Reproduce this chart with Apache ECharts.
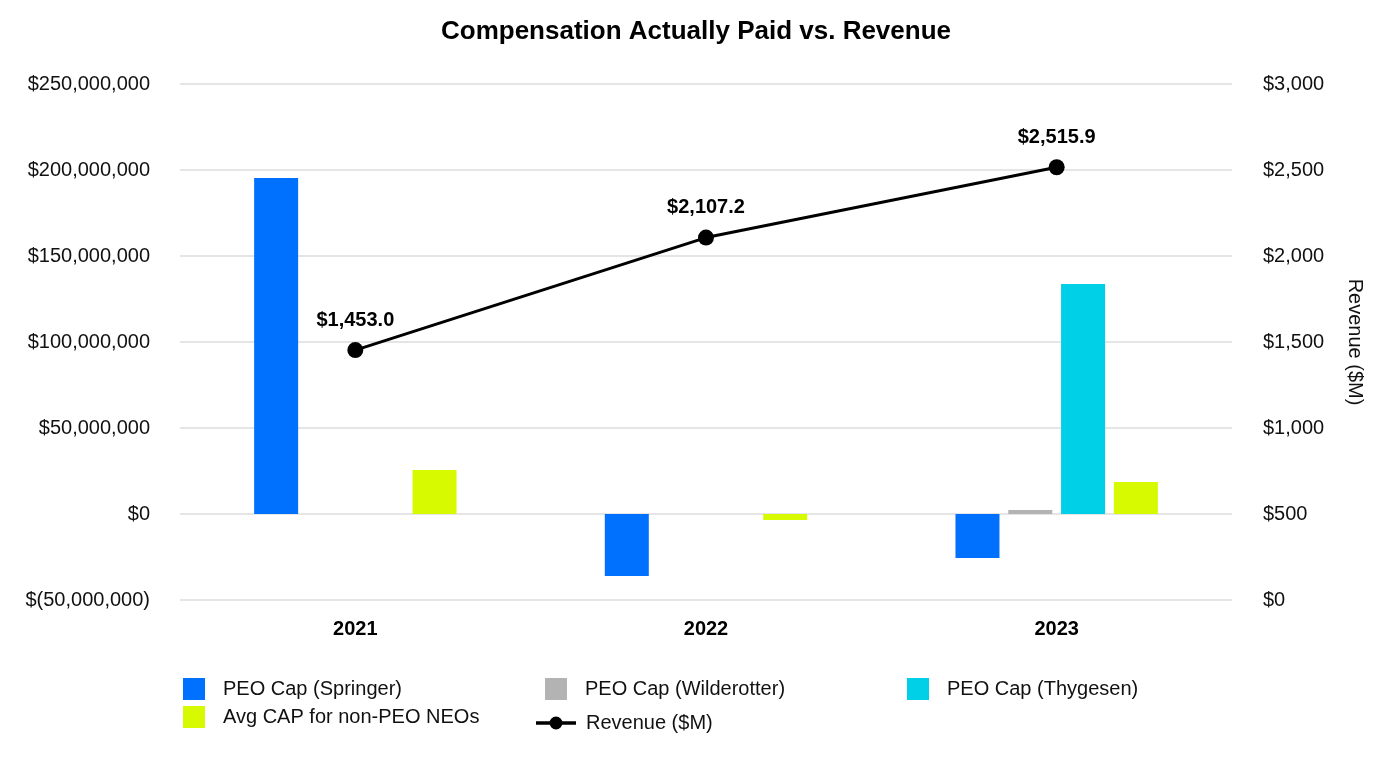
<!DOCTYPE html>
<html>
<head>
<meta charset="utf-8">
<script src="https://cdn.jsdelivr.net/npm/echarts@6/dist/echarts.min.js"></script>
<style>
html,body{margin:0;padding:0;background:#fff;}
#chart{width:1392px;height:760px;}
</style>
</head>
<body>
<div id="chart"></div>
<script>
const categories = ['2021', '2022', '2023'];
const springer = [195300000, -36000000, -25600000];
const wilderotter = [null, null, 2300000];
const thygesen = [null, null, 133700000];
const avgNonPeo = [25600000, -3500000, 18600000];
const revenue = [1453.0, 2107.2, 2515.9];
const leftTicks = { min: -50000000, max: 250000000, interval: 50000000 };
const rightTicks = { min: 0, max: 3000, interval: 500 };

const FONT = "'Liberation Sans', Arial, Helvetica, sans-serif";
const FS = 20;
function fmtMoney(v) {
  const s = Math.abs(v).toLocaleString('en-US');
  return v < 0 ? '$(' + s + ')' : '$' + s;
}
const chart = echarts.init(document.getElementById('chart'));
const barBase = { type: 'bar', barWidth: 44, barGap: '20%', yAxisIndex: 0 };
const legendText = { fontFamily: FONT, fontSize: FS, color: '#111', padding: [0, 0, 0, 13] };
const lineIcon = 'path://M0,5.25 L14,5.25 L14,8.75 L0,8.75 Z M26,5.25 L40,5.25 L40,8.75 L26,8.75 Z M13.5,7 A6.5,6.5 0 1,1 26.5,7 A6.5,6.5 0 1,1 13.5,7 Z';
const sqLegend = { orient: 'vertical', icon: 'rect', itemWidth: 22, itemHeight: 22, itemGap: 6, top: 673, textStyle: legendText };
chart.setOption({
  animation: false,
  textStyle: { fontFamily: FONT },
  title: {
    text: 'Compensation Actually Paid vs. Revenue', left: 'center', top: 14,
    textStyle: { fontFamily: FONT, fontSize: 26, fontWeight: 'bold', color: '#000' }
  },
  legend: [
    Object.assign({ left: 178, data: ['PEO Cap (Springer)', 'Avg CAP for non-PEO NEOs'] }, sqLegend),
    Object.assign({ left: 540, data: ['PEO Cap (Wilderotter)'] }, sqLegend),
    { orient: 'vertical', itemWidth: 40, itemHeight: 14, left: 531, top: 708,
      textStyle: Object.assign({}, legendText, { padding: [0, 0, 0, 5] }),
      data: [{ name: 'Revenue ($M)', icon: lineIcon }] },
    Object.assign({ left: 902, data: ['PEO Cap (Thygesen)'] }, sqLegend)
  ],
  grid: { left: 180, right: 160, top: 84, bottom: 160 },
  xAxis: {
    type: 'category', data: categories,
    axisLine: { show: false }, axisTick: { show: false },
    axisLabel: { fontFamily: FONT, fontSize: FS, fontWeight: 'bold', color: '#000', margin: 19 }
  },
  yAxis: [
    {
      type: 'value', min: leftTicks.min, max: leftTicks.max, interval: leftTicks.interval,
      axisLine: { show: false }, axisTick: { show: false },
      splitLine: { lineStyle: { color: '#e5e5e5', width: 2 } },
      axisLabel: { fontFamily: FONT, fontSize: FS, color: '#111', margin: 30, formatter: fmtMoney }
    },
    {
      type: 'value', min: rightTicks.min, max: rightTicks.max, interval: rightTicks.interval,
      name: 'Revenue ($M)', nameLocation: 'middle', nameRotate: -90, nameGap: 113,
      nameTextStyle: { fontFamily: FONT, fontSize: FS, color: '#111' },
      axisLine: { show: false }, axisTick: { show: false }, splitLine: { show: false },
      axisLabel: { fontFamily: FONT, fontSize: FS, color: '#111', margin: 31, formatter: fmtMoney }
    }
  ],
  series: [
    Object.assign({ name: 'PEO Cap (Springer)', data: springer, itemStyle: { color: '#0070ff' } }, barBase),
    Object.assign({ name: 'PEO Cap (Wilderotter)', data: wilderotter, itemStyle: { color: '#b3b3b3' } }, barBase),
    Object.assign({ name: 'PEO Cap (Thygesen)', data: thygesen, itemStyle: { color: '#00cfe8' } }, barBase),
    Object.assign({ name: 'Avg CAP for non-PEO NEOs', data: avgNonPeo, itemStyle: { color: '#d7fa00' } }, barBase),
    {
      name: 'Revenue ($M)', type: 'line', yAxisIndex: 1, data: revenue,
      symbol: 'circle', symbolSize: 16,
      lineStyle: { color: '#000', width: 3 }, itemStyle: { color: '#000' },
      label: {
        show: true, position: 'top', distance: 12,
        fontFamily: FONT, fontSize: FS, fontWeight: 'bold', color: '#000',
        formatter: p => '$' + p.value.toLocaleString('en-US', { minimumFractionDigits: 1, maximumFractionDigits: 1 })
      }
    }
  ]
});
</script>
</body>
</html>
